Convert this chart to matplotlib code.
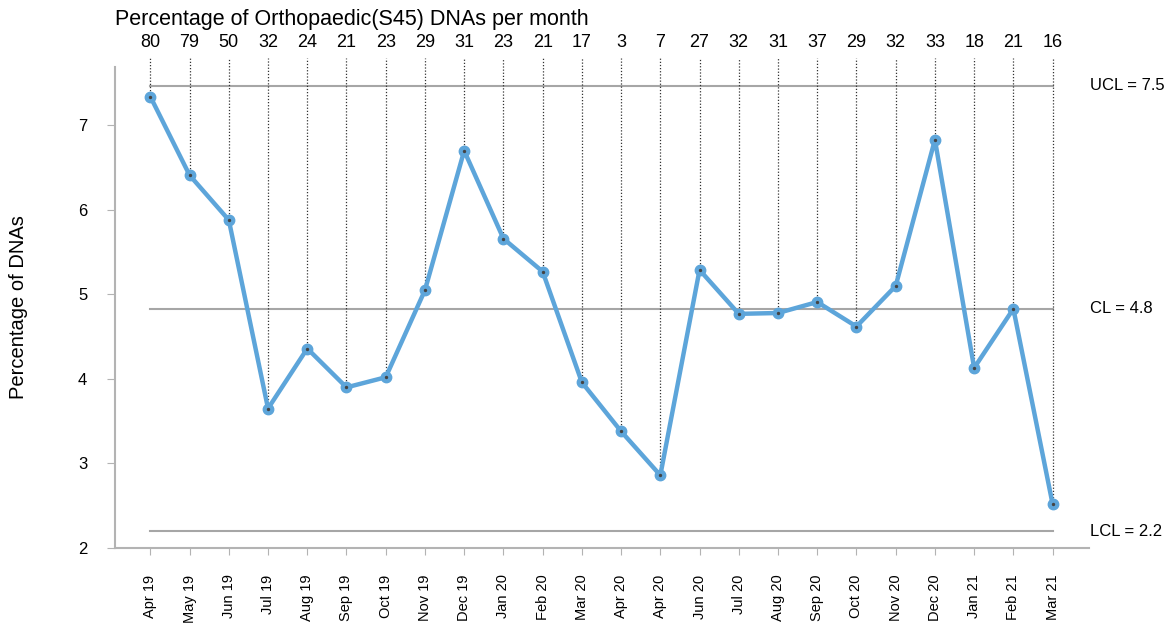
import matplotlib
matplotlib.use("Agg")
import matplotlib.pyplot as plt

plt.rcParams["font.family"] = ["Liberation Sans", "DejaVu Sans"]

# data
months = ["Apr 19", "May 19", "Jun 19", "Jul 19", "Aug 19", "Sep 19", "Oct 19",
          "Nov 19", "Dec 19", "Jan 20", "Feb 20", "Mar 20", "Apr 20", "Apr 20",
          "Jun 20", "Jul 20", "Aug 20", "Sep 20", "Oct 20", "Nov 20", "Dec 20",
          "Jan 21", "Feb 21", "Mar 21"]
pct_dna = [7.34, 6.41, 5.88, 3.65, 4.36, 3.90, 4.02, 5.05, 6.70, 5.66, 5.27,
           3.96, 3.38, 2.86, 5.29, 4.77, 4.78, 4.91, 4.62, 5.10, 6.83, 4.13,
           4.83, 2.52]
dna_counts = [80, 79, 50, 32, 24, 21, 23, 29, 31, 23, 21, 17, 3, 7, 27, 32,
              31, 37, 29, 32, 33, 18, 21, 16]
ucl, cl, lcl = 7.47, 4.83, 2.2

x = list(range(len(months)))
grey = "#b3b3b3"

fig = plt.figure(figsize=(11.74, 6.23), dpi=100)
ax = fig.add_axes([0.098, 0.1204, 0.83, 0.772])

# control limits
for val, name in [(ucl, "UCL = 7.5"), (cl, "CL = 4.8"), (lcl, "LCL = 2.2")]:
    ax.plot([x[0], x[-1]], [val, val], color="#a6a6a6", lw=1.5, zorder=1)
    ax.text(23.95, val, name, fontsize=12, va="center", ha="left")

# dotted drop lines up to the count labels
for xi, yi, n in zip(x, pct_dna, dna_counts):
    ax.plot([xi, xi], [yi, 7.80], color="#333333", lw=0.9, ls=(0, (1, 1.5)),
            clip_on=False, zorder=2)
    ax.text(xi, 7.98, str(n), fontsize=13, ha="center", va="center")

ax.plot(x, pct_dna, color="#5DA5DA", lw=3.2, marker="o", ms=7.5, zorder=3)
ax.scatter(x, pct_dna, s=2, color="#444444", zorder=4)

ax.set_xlim(-0.9, 23.94)
ax.set_ylim(2, 7.69)
ax.set_xticks(x)
ax.set_xticklabels(months, rotation=90, fontsize=10.5)
ax.set_yticks([2, 3, 4, 5, 6, 7])
ax.tick_params(axis="y", labelsize=12, colors="#b3b3b3", labelcolor="black",
               length=6, pad=14)
ax.tick_params(axis="x", colors="#b3b3b3", labelcolor="black", length=5,
               pad=14)
for s in ["top", "right"]:
    ax.spines[s].set_visible(False)
for s in ["left", "bottom"]:
    ax.spines[s].set_color(grey)
    ax.spines[s].set_linewidth(1.5)

ax.set_ylabel("Percentage of DNAs", fontsize=14.5, labelpad=36)
fig.text(0.098, 0.968, "Percentage of Orthopaedic(S45) DNAs per month",
         fontsize=15.5, ha="left", va="center")

fig.savefig("out.png", dpi=100)
